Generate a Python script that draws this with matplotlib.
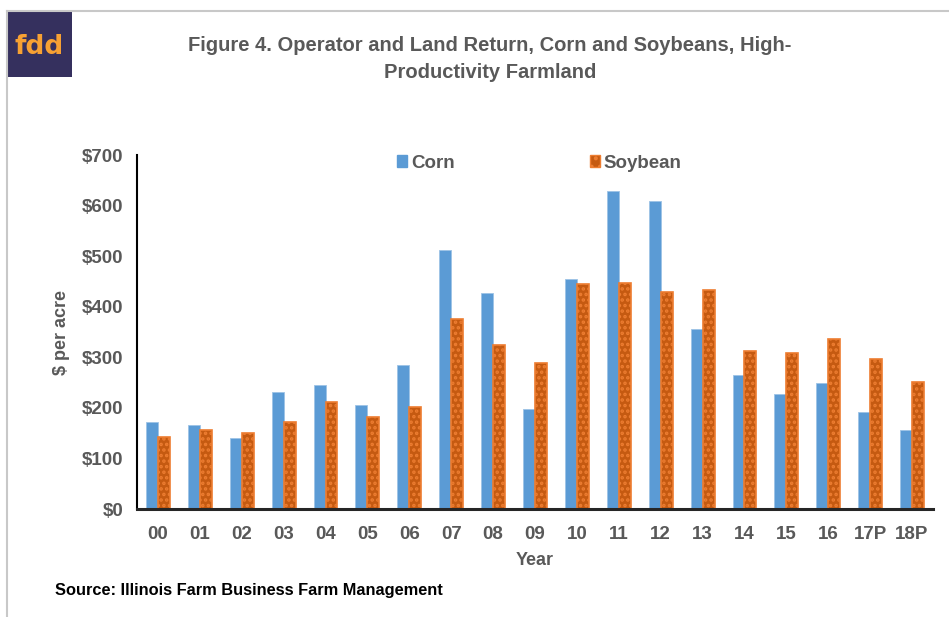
import numpy as np
import matplotlib.pyplot as plt
from matplotlib.lines import Line2D
from matplotlib.patches import Rectangle, Patch

plt.rcParams['font.family'] = ['Liberation Sans', 'DejaVu Sans']
plt.rcParams['hatch.color'] = 'white'
plt.rcParams['hatch.linewidth'] = 1.7

years = ["00", "01", "02", "03", "04", "05", "06", "07", "08", "09",
         "10", "11", "12", "13", "14", "15", "16", "17P", "18P"]
corn = [172, 167, 141, 231, 246, 205, 284, 512, 428, 197,
        455, 629, 610, 356, 264, 227, 249, 191, 157]
soybean = [143, 156, 150, 173, 211, 182, 201, 375, 324, 289,
           444, 446, 430, 434, 313, 308, 337, 297, 251]
yticks = [0, 100, 200, 300, 400, 500, 600, 700]

GRAY = "#595959"
BLUE = "#5B9BD5"
ORANGE_DARK = "#C55A11"
ORANGE_EDGE = "#ED7D31"

W, H = 949, 617
fig = plt.figure(figsize=(W / 100, H / 100), dpi=100)

# frame lines (left and top) and logo
fig.add_artist(Line2D([7 / W, 7 / W], [0, 1 - 11 / H], color="#c8c8c8", lw=1.5))
fig.add_artist(Line2D([7 / W, 1], [1 - 11 / H, 1 - 11 / H], color="#c8c8c8", lw=1.5))
fig.add_artist(Rectangle((7 / W, 1 - 77 / H), 65 / W, 66 / H,
                         facecolor="#35305E", edgecolor="none"))
fig.text(39.5 / W, 1 - 47 / H, "fdd", color="#F7A133", fontsize=19,
         fontweight="bold", ha="center", va="center", family=["DejaVu Sans"])

ax = fig.add_axes([137 / W, 1 - 509 / H, (933 - 137) / W, (509 - 155) / H])

x = np.arange(len(years))
bw = 0.285
ax.bar(x - bw / 2, corn, bw, color=BLUE, edgecolor="#9DC3E6", linewidth=0.6, label="Corn")
ax.bar(x + bw / 2, soybean, bw, color=ORANGE_DARK, edgecolor=ORANGE_EDGE,
       linewidth=1.2, hatch="...", label="Soybean")

ax.set_xlim(-0.5, len(years) - 0.5)
ax.set_ylim(0, 700)
ax.set_xticks(x)
ax.set_xticklabels(years)
ax.set_yticks(yticks)
ax.set_yticklabels([f"${v}" for v in yticks])
ax.tick_params(axis="both", length=0, labelsize=13.5, labelcolor=GRAY)
ax.tick_params(axis="y", pad=10)
ax.tick_params(axis="x", pad=12)
for lab in ax.get_xticklabels() + ax.get_yticklabels():
    lab.set_fontweight("bold")

for s in ["top", "right"]:
    ax.spines[s].set_visible(False)
ax.spines["left"].set_linewidth(1.5)
ax.spines["bottom"].set_linewidth(2.2)
ax.spines["bottom"].set_color("#262626")

ax.set_xlabel("Year", fontsize=13, fontweight="bold", color=GRAY, labelpad=7)
ax.set_ylabel("$ per acre", fontsize=13, fontweight="bold", color=GRAY, labelpad=8)

handles = [Patch(facecolor=BLUE, edgecolor=BLUE),
           Patch(facecolor=ORANGE_DARK, edgecolor=ORANGE_EDGE, hatch="..")]
leg = ax.legend(handles, ["Corn", "Soybean"], loc="center left",
                bbox_to_anchor=((380 - 137) / (933 - 137), 1 - 8 / 354),
                ncol=2, frameon=False, columnspacing=7.2, handlelength=0.55,
                handleheight=0.55, handletextpad=0.2,
                prop={"weight": "bold", "size": 13.5})
for t in leg.get_texts():
    t.set_color(GRAY)

fig.text(490 / W, 1 - 59 / H,
         "Figure 4. Operator and Land Return, Corn and Soybeans, High-\nProductivity Farmland",
         ha="center", va="center", fontsize=14.5, fontweight="bold", color=GRAY,
         linespacing=1.55)

fig.text(55 / W, 1 - 591 / H, "Source: Illinois Farm Business Farm Management",
         ha="left", va="center", fontsize=11.8, fontweight="bold", color="black")

fig.savefig("out.png", dpi=100)
